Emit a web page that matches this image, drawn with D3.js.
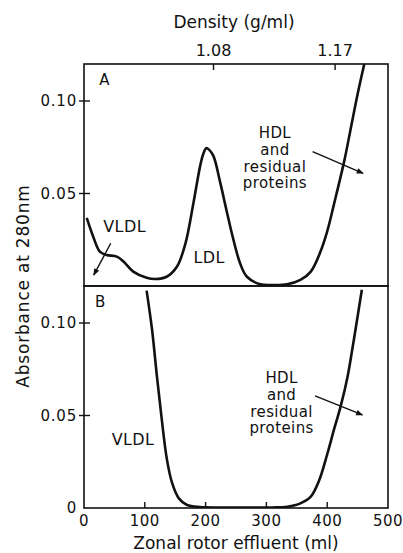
<!DOCTYPE html>
<html>
<head>
<meta charset="utf-8">
<script src="https://cdn.jsdelivr.net/npm/d3@7"></script>
<style>
  body { margin:0; background:#fff; }
  text { font-family:"DejaVu Sans", sans-serif; fill:#111; }
</style>
</head>
<body>
<div id="chart"></div>
<script>
var w=403, h=553;
var pad={left:84, right:15, top:64, bottom:45};

//Panel A (zonal rotor effluent in ml vs absorbance)
var panelA_ml=[4.5,15,26,37,54,65,81,103,117,136,153,167,180,191,196,201,206,213,224,235,245,257,268,290,312,334,356,373,389,400,411,428,439,450,461];
var panelA_abs=[0.0368,0.0268,0.0186,0.0168,0.0159,0.0132,0.0078,0.0045,0.0038,0.0050,0.0105,0.0232,0.0449,0.0648,0.0712,0.0745,0.0736,0.0702,0.0560,0.0400,0.0260,0.0120,0.0050,0.0009,0.0005,0.0009,0.0033,0.0078,0.0186,0.0295,0.0440,0.0675,0.0856,0.1037,0.1200];

//Panel B
var panelB_ml=[103,112,120,128,136.5,145,156,169.5,191,230,270,310,334.5,356,373,387,400.5,411,422,433.5,442,450,457];
var panelB_abs=[0.1175,0.0962,0.0710,0.0476,0.0260,0.0134,0.0052,0.0016,0.0005,0.0003,0.0003,0.0003,0.0007,0.0025,0.0061,0.0151,0.0296,0.0422,0.0548,0.0710,0.0873,0.1035,0.1180];

//Tick labels
var xTicks=[0,100,200,300,400,500];
var yTicks=[0.05,0.10];
var densityLabels=["1.08","1.17"];
var densityMl=[213,413];

var svg=d3.select("#chart")
          .append("svg")
          .attr("width",w)
          .attr("height",h);

var defs=svg.append("defs");
defs.append("marker")
    .attr("id","arrow")
    .attr("viewBox","0 0 10 10")
    .attr("refX",9).attr("refY",5)
    .attr("markerWidth",9).attr("markerHeight",7)
    .attr("markerUnits","userSpaceOnUse")
    .attr("orient","auto")
    .append("path")
    .attr("d","M0,1 L10,5 L0,9 Z")
    .style("fill","#111");

//Scales
var xScale=d3.scaleLinear().domain([0,500]).range([pad.left,w-pad.right]);
var panelH=(h-pad.bottom-pad.top)/2;
var yA=d3.scaleLinear().domain([0,0.12]).range([pad.top+panelH,pad.top]);
var yB=d3.scaleLinear().domain([0,0.12]).range([pad.top+2*panelH,pad.top+panelH]);

var line=function(y) {
    return d3.line()
             .x(function(d) {return xScale(d[0]);})
             .y(function(d) {return y(d[1]);})
             .curve(d3.curveCatmullRom.alpha(0.5));
};

var draw_panel=function(id,y,ml,abs,label,showZero) {
    var top=y.range()[1], bottom=y.range()[0];
    defs.append("clipPath").attr("id","clip"+id)
        .append("rect")
        .attr("x",xScale(0)).attr("y",top)
        .attr("width",xScale(500)-xScale(0)).attr("height",bottom-top);

    //Frame
    svg.append("rect")
       .attr("x",xScale(0)).attr("y",top)
       .attr("width",xScale(500)-xScale(0)).attr("height",bottom-top)
       .style("fill","none").style("stroke","#111").style("stroke-width",1.6);

    //Y ticks crossing the axis
    var g=svg.append("g");
    g.selectAll("line").data(yTicks).enter().append("line")
     .attr("x1",xScale(0)-5).attr("x2",xScale(0)+6)
     .attr("y1",function(d) {return y(d);}).attr("y2",function(d) {return y(d);})
     .style("stroke","#111").style("stroke-width",1.4);
    g.selectAll("text").data(showZero ? [0].concat(yTicks) : yTicks).enter().append("text")
     .attr("x",xScale(0)-7)
     .attr("y",function(d) {return y(d);})
     .attr("text-anchor","end")
     .attr("dominant-baseline","central")
     .style("font-size","15px")
     .style("letter-spacing","0.8px")
     .text(function(d) {return d===0 ? "0" : d3.format(".2f")(d);});

    //Curve
    var pts=ml.map(function(d,i) {return [d,abs[i]];});
    svg.append("path")
       .datum(pts)
       .attr("clip-path","url(#clip"+id+")")
       .attr("d",line(y))
       .style("fill","none").style("stroke","#111").style("stroke-width",2.6)
       .style("stroke-linejoin","round");

    //Panel letter
    svg.append("text")
       .attr("x",xScale(label.ml)).attr("y",y(label.abs))
       .style("font-size","15px")
       .text(label.text);
};

draw_panel("A",yA,panelA_ml,panelA_abs,{text:"A",ml:25,abs:0.1087},false);
draw_panel("B",yB,panelB_ml,panelB_abs,{text:"B",ml:18,abs:0.1089},true);

//Bottom axis ticks (inward) and labels
svg.append("g").selectAll("line").data(xTicks.slice(1,5)).enter().append("line")
   .attr("x1",function(d) {return xScale(d);}).attr("x2",function(d) {return xScale(d);})
   .attr("y1",yB(0)).attr("y2",yB(0)-6)
   .style("stroke","#111").style("stroke-width",1.4);
svg.append("g").selectAll("text").data(xTicks).enter().append("text")
   .attr("x",function(d) {return xScale(d);})
   .attr("y",yB(0)+18)
   .attr("text-anchor","middle")
   .style("font-size","15px")
   .style("letter-spacing","0.5px")
   .text(function(d) {return d;});
svg.append("text")
   .attr("x",(xScale(0)+xScale(500))/2)
   .attr("y",yB(0)+41)
   .attr("text-anchor","middle")
   .style("font-size","17px")
   .text("Zonal rotor effluent (ml)");

//Top density axis
svg.append("g").selectAll("line").data(densityMl).enter().append("line")
   .attr("x1",function(d) {return xScale(d);}).attr("x2",function(d) {return xScale(d);})
   .attr("y1",yA(0.12)).attr("y2",yA(0.12)+6)
   .style("stroke","#111").style("stroke-width",1.4);
svg.append("g").selectAll("text").data(densityLabels).enter().append("text")
   .attr("x",function(d,i) {return xScale(densityMl[i]);})
   .attr("y",yA(0.12)-8)
   .attr("text-anchor","middle")
   .style("font-size","16px")
   .text(function(d) {return d;});
svg.append("text")
   .attr("x",234)
   .attr("y",28)
   .attr("text-anchor","middle")
   .style("font-size","17px")
   .text("Density (g/ml)");

//Y axis title
svg.append("text")
   .attr("transform","translate(29,"+yA(0)+") rotate(-90)")
   .attr("text-anchor","middle")
   .style("font-size","17px")
   .style("letter-spacing","0.8px")
   .text("Absorbance at 280nm");

//Annotations
var annotate=function(y,lines,ml,abs,anchor,size) {
    var t=svg.append("text")
             .attr("text-anchor",anchor)
             .style("font-size",size+"px")
             .style("letter-spacing","0.4px");
    lines.forEach(function(s,i) {
        t.append("tspan")
         .attr("x",xScale(ml))
         .attr("y",y(abs)+i*16.7)
         .text(s);
    });
};
var arrow=function(y,ml1,abs1,ml2,abs2) {
    svg.append("line")
       .attr("x1",xScale(ml1)).attr("y1",y(abs1))
       .attr("x2",xScale(ml2)).attr("y2",y(abs2))
       .attr("marker-end","url(#arrow)")
       .style("stroke","#111").style("stroke-width",1.4);
};

annotate(yA,["VLDL"],31.7,0.0294,"start",16);
annotate(yA,["LDL"],180,0.0123,"start",16);
annotate(yA,["HDL","and","residual","proteins"],314,0.0798,"middle",15);
arrow(yA,44,0.0231,16,0.0059);
arrow(yA,376,0.0726,459,0.0609);

annotate(yB,["VLDL"],45.5,0.0341,"start",16);
annotate(yB,["HDL","and","residual","proteins"],325,0.0675,"middle",15);
arrow(yB,380,0.0606,458,0.0503);
</script>
</body>
</html>
